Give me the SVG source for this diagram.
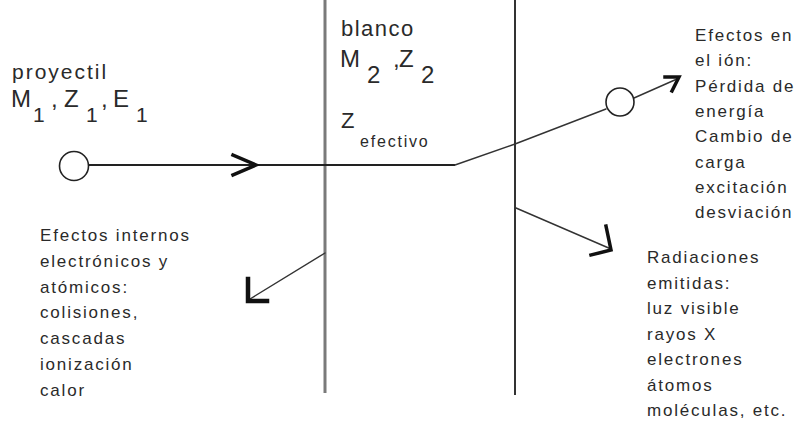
<svg xmlns="http://www.w3.org/2000/svg" width="798" height="423" viewBox="0 0 798 423">
<defs>
<style>
text{font-family:"Liberation Sans",Arial,sans-serif;fill:#2a2a2a}
.blk{font-size:17px;letter-spacing:1.8px}
.big{font-size:24px}
.sub{font-size:21px}
.conn{fill:none;stroke:#333;stroke-width:1.4;stroke-linecap:round}
.head{fill:none;stroke:#111;stroke-width:4;stroke-linecap:square;stroke-linejoin:miter}
.circ{fill:#fff;stroke:#222;stroke-width:1.6}
</style>
</defs>
<rect width="798" height="423" fill="#fff"/>
<g id="target">
<line x1="325" y1="0" x2="325" y2="393" stroke="#7a7a7a" stroke-width="3"/>
<line x1="515" y1="0" x2="515" y2="395" stroke="#333" stroke-width="2"/>
<text x="341" y="36" style="font-size:22px;letter-spacing:1.5px">blanco</text>
<text class="big" x="340" y="67">M<tspan x="367" y="83">2</tspan><tspan x="393" y="67">,</tspan><tspan x="399" y="67">Z</tspan><tspan x="421" y="83">2</tspan></text>
<text x="341" y="128" style="font-size:22px">Z</text>
<text x="360" y="147" style="font-size:16px;letter-spacing:1.8px">efectivo</text>
</g>
<g id="connectors">
<line x1="89" y1="165" x2="455" y2="165" stroke="#222" stroke-width="2"/>
<polyline class="head" points="233,155 256,165 233,175" style="stroke-width:3.5"/>
<polyline class="conn" points="455,165 515,144 606,109"/>
<polyline class="conn" points="634,98 677,79"/>
<polyline class="head" points="665,77 679,77 672,91" style="stroke-width:3.5"/>
<polyline class="conn" points="516,208 611,249"/>
<polyline class="head" points="606,226 611,250 591,255" style="stroke-width:3.5"/>
<polyline class="conn" points="325,253 250,299"/>
<polyline class="head" points="248,279 248,301 267,301" style="stroke-width:4.5"/>
</g>
<g id="projectile">
<circle class="circ" cx="74" cy="166" r="14.5"/>
<text x="12" y="79" style="font-size:21px;letter-spacing:2px">proyectil</text>
<text class="big" x="11" y="107">M<tspan class="sub" x="33" y="122">1</tspan><tspan x="51" y="107">,</tspan><tspan x="64" y="107">Z</tspan><tspan class="sub" x="86" y="122">1</tspan><tspan x="101" y="107">,</tspan><tspan x="113" y="107">E</tspan><tspan class="sub" x="136" y="122">1</tspan></text>
</g>
<g id="ion">
<circle class="circ" cx="620" cy="102" r="14"/>
</g>
<g id="ion-effects">
<text class="blk" x="695" y="41">Efectos en<tspan x="695" dy="25.3">el ión:</tspan><tspan x="695" dy="25.3">Pérdida de</tspan><tspan x="695" dy="25.3">energía</tspan><tspan x="695" dy="25.3">Cambio de</tspan><tspan x="695" dy="25.3">carga</tspan><tspan x="695" dy="25.3">excitación</tspan><tspan x="695" dy="25.3">desviación</tspan></text>
</g>
<g id="internal-effects">
<text class="blk" x="40" y="241">Efectos internos<tspan x="40" dy="25.8">electrónicos y</tspan><tspan x="40" dy="25.8">atómicos:</tspan><tspan x="40" dy="25.8">colisiones,</tspan><tspan x="40" dy="25.8">cascadas</tspan><tspan x="40" dy="25.8">ionización</tspan><tspan x="40" dy="25.8">calor</tspan></text>
</g>
<g id="radiation">
<text class="blk" x="647" y="263">Radiaciones<tspan x="647" dy="25.5">emitidas:</tspan><tspan x="647" dy="25.5">luz visible</tspan><tspan x="647" dy="25.5">rayos X</tspan><tspan x="647" dy="25.5">electrones</tspan><tspan x="647" dy="25.5">átomos</tspan><tspan x="647" dy="25.5">moléculas, etc.</tspan></text>
</g>
</svg>
